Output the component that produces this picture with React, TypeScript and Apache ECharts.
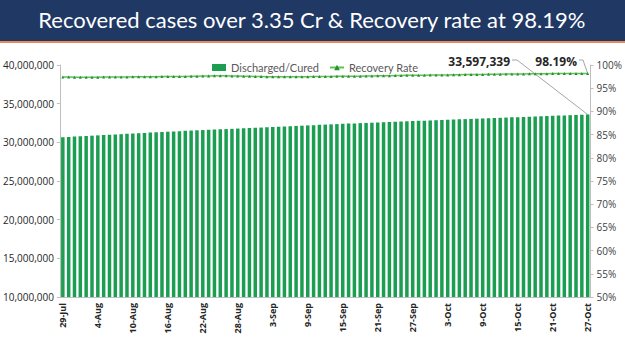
import React, { useEffect, useRef } from "react";
import * as echarts from "echarts";

const monthSpans: [string, number, number][] = [
  ["Jul", 29, 31],
  ["Aug", 1, 31],
  ["Sep", 1, 30],
  ["Oct", 1, 27],
];
const categories: string[] = [];
monthSpans.forEach(([m, a, b]) => {
  for (let d = a; d <= b; d++) categories.push(`${d}-${m}`);
});

const discharged: number[] = [
  30663147, 30701612, 30743972,
  30781263, 30821427, 30862258, 30899889, 30940561, 30981975, 31020516, 31055844, 31094018, 31139457,
  31180968, 31220981, 31260050, 31299091, 31338088, 31374718, 31411924, 31448754, 31486326, 31525080,
  31558530, 31590451, 31626485, 31650484, 31680626, 31712110, 31745005, 31779639, 31811336, 31840194, 31874091,
  31911107, 31948838, 31986469, 32022822, 32058883, 32088460, 32121049, 32153494, 32189121, 32224837,
  32258315, 32292419, 32325052, 32355464, 32388643, 32421978, 32450620, 32480123, 32510004, 32540545,
  32571105, 32603430, 32634917, 32664590, 32693136, 32722254, 32749576, 32778423, 32805917, 32829762,
  32858532, 32887290, 32916045, 32944120, 32972331, 33001549, 33030870, 33059192, 33087715, 33115343,
  33143906, 33172017, 33200562, 33229020, 33257344, 33285751, 33313973, 33342215, 33370851, 33399444,
  33428006, 33456975, 33485014, 33513250, 33541110, 33569267, 33597339,
];

const recoveryRate: number[] = [
  97.39, 97.39, 97.38,
  97.37, 97.36, 97.37, 97.38, 97.39, 97.4, 97.4, 97.4, 97.42, 97.45, 97.46, 97.48, 97.48, 97.49, 97.51,
  97.52, 97.53, 97.53, 97.54, 97.57, 97.6, 97.63, 97.65, 97.66, 97.67, 97.66, 97.64, 97.62, 97.6, 97.57, 97.53,
  97.51, 97.48, 97.48, 97.46, 97.45, 97.45, 97.45, 97.48, 97.49, 97.51, 97.52, 97.53, 97.54, 97.55, 97.56,
  97.57, 97.58, 97.6, 97.63, 97.65, 97.67, 97.69, 97.7, 97.73, 97.75, 97.77, 97.78, 97.78, 97.81, 97.83,
  97.85, 97.86, 97.87, 97.89, 97.91, 97.93, 97.94, 97.95, 97.95, 97.98, 98.0, 98.02, 98.04, 98.05, 98.07,
  98.08, 98.1, 98.12, 98.12, 98.14, 98.15, 98.16, 98.16, 98.17, 98.18, 98.18, 98.19,
];

const titleText = "Recovered cases over 3.35 Cr & Recovery rate at 98.19%";

export default function App() {
  const ref = useRef<HTMLDivElement>(null);
  useEffect(() => {
    if (!ref.current) return;
    const chart = echarts.init(ref.current, undefined, { renderer: "svg" });
    const axisFont = "'Open Sans', 'Noto Sans', sans-serif";
    const baseGraphic = [
      { type: "rect", left: 0, top: 0, shape: { width: 625, height: 41 }, style: { fill: "#1f3864" } },
      { type: "rect", left: 0, top: 41, shape: { width: 625, height: 2 }, style: { fill: "#e8895a" } },
      {
        type: "text",
        left: "center",
        top: 8,
        style: {
          text: titleText,
          fill: "#ffffff",
          fontSize: 22,
          fontFamily: "Lato, 'Open Sans', sans-serif",
        },
      },
    ];
    chart.setOption({
      animation: false,
      backgroundColor: "#ffffff",
      grid: { left: 58, right: 33, top: 65, bottom: 54 },
      legend: {
        left: 207,
        top: 57,
        itemGap: 10,
        itemWidth: 14,
        itemHeight: 7,
        textStyle: { fontSize: 11, color: "#595959", fontFamily: "Lato, 'Open Sans', sans-serif" },
        data: [
          { name: "Discharged/Cured", icon: "rect" },
          { name: "Recovery Rate" },
        ],
      },
      xAxis: {
        type: "category",
        data: categories,
        axisLine: { lineStyle: { color: "#bfbfbf" } },
        axisTick: { show: false },
        axisLabel: {
          interval: 5,
          rotate: 90,
          fontSize: 9,
          fontWeight: "bold",
          color: "#262626",
          fontFamily: axisFont,
          margin: 6,
        },
      },
      yAxis: [
        {
          type: "value",
          min: 10000000,
          max: 40000000,
          interval: 5000000,
          axisLine: { show: true, lineStyle: { color: "#bfbfbf" } },
          axisTick: { show: true, length: 3, lineStyle: { color: "#bfbfbf" } },
          splitLine: { show: false },
          axisLabel: {
            fontSize: 10,
            color: "#262626",
            fontFamily: axisFont,
            margin: 6,
            formatter: (v: number) => v.toLocaleString("en-US"),
          },
        },
        {
          type: "value",
          min: 50,
          max: 100,
          interval: 5,
          position: "right",
          axisLine: { show: true, lineStyle: { color: "#bfbfbf" } },
          axisTick: { show: true, length: 3, lineStyle: { color: "#bfbfbf" } },
          splitLine: { show: false },
          axisLabel: {
            fontSize: 10,
            color: "#404040",
            fontFamily: axisFont,
            margin: 6,
            formatter: "{value}%",
          },
        },
      ],
      series: [
        {
          name: "Discharged/Cured",
          type: "bar",
          data: discharged,
          barCategoryGap: "40%",
          itemStyle: { color: "#1c9e52" },
        },
        {
          name: "Recovery Rate",
          type: "line",
          yAxisIndex: 1,
          data: recoveryRate,
          symbol: "triangle",
          symbolSize: 3,
          showAllSymbol: true,
          lineStyle: { color: "#5cc452", width: 1.5 },
          itemStyle: { color: "#2e8b3a" },
        },
      ],
      graphic: baseGraphic,
    });

    const n = categories.length - 1;
    const pBar = chart.convertToPixel({ xAxisIndex: 0, yAxisIndex: 0 }, [n, discharged[n]]) as number[];
    const pRate = chart.convertToPixel({ xAxisIndex: 0, yAxisIndex: 1 }, [n, recoveryRate[n]]) as number[];
    const labelFont = "bold 12px 'Open Sans', sans-serif";
    chart.setOption({
      graphic: [
        ...baseGraphic,
        {
          type: "text",
          x: 510,
          y: 61,
          style: {
            text: discharged[n].toLocaleString("en-US"),
            font: labelFont,
            fill: "#262626",
            align: "right",
            verticalAlign: "middle",
          },
        },
        {
          type: "polyline",
          shape: { points: [[512, 60], [517, 60], [pBar[0], pBar[1]]] },
          style: { stroke: "#a6a6a6", lineWidth: 1, fill: "none" },
        },
        {
          type: "text",
          x: 577,
          y: 61,
          style: {
            text: recoveryRate[n].toFixed(2) + "%",
            font: labelFont,
            fill: "#262626",
            align: "right",
            verticalAlign: "middle",
          },
        },
        {
          type: "polyline",
          shape: { points: [[579, 60], [583, 60], [pRate[0], pRate[1]]] },
          style: { stroke: "#a6a6a6", lineWidth: 1, fill: "none" },
        },
      ],
    });
    return () => chart.dispose();
  }, []);
  return (
    <div
      ref={ref}
      style={{ position: "fixed", left: 0, top: 0, width: 625, height: 351, background: "#fff" }}
    />
  );
}
